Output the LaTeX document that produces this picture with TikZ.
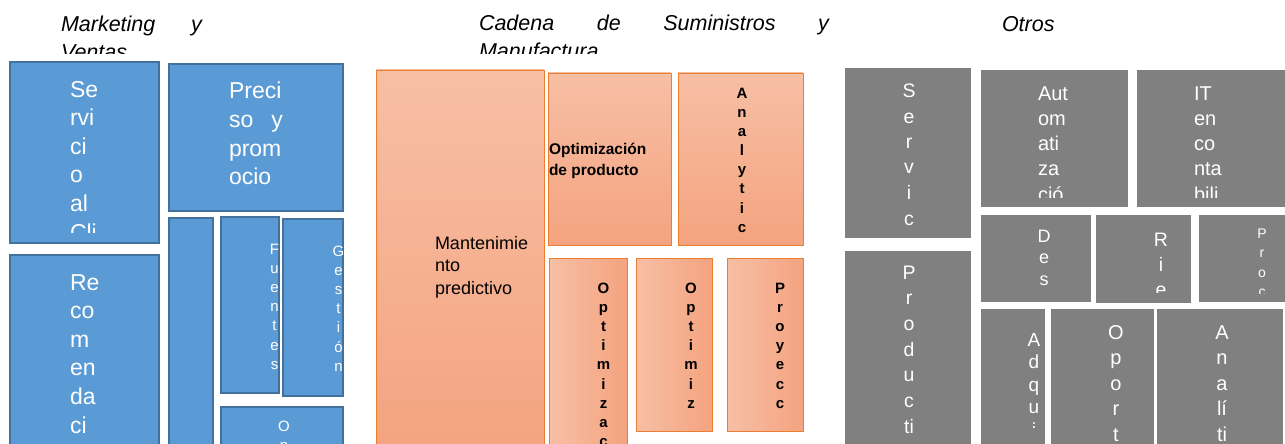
\documentclass[tikz,border=0pt]{standalone}
\usepackage{fontspec}
\setmainfont{Liberation Sans}
\definecolor{bfill}{RGB}{91,155,213}
\definecolor{bline}{RGB}{65,113,156}
\definecolor{gfill}{RGB}{128,128,128}
\definecolor{otop}{RGB}{247,191,165}
\definecolor{obot}{RGB}{244,163,127}
\definecolor{oline}{RGB}{237,125,49}
% vertical stack of centred single items
\def\vsend{\relax}
\def\vsaux#1{\def\vstmp{#1}\ifx\vstmp\vsend\else\hbox to0pt{\hss#1\hss}\expandafter\vsaux\fi}
\newcommand\vlet[1]{\vtop{\vsaux#1\relax}}
% vertical stack of left-aligned lines separated by commas
\def\vlend{QQEND}
\def\vlaux#1,{\def\vltmp{#1}\ifx\vltmp\vlend\else\hbox{#1}\expandafter\vlaux\fi}
\newcommand\vlin[1]{\vtop{\vlaux#1,QQEND,}}
% box: style, name, x1, y1, x2, y2
\newcommand\tbox[6]{\node[#1, anchor=north west, minimum width={#5-#3}, minimum height={#6-#4}] (#2) at (#3,#4) {};}
\tikzset{
  boxbase/.style={inner sep=0pt, outer sep=0pt, rectangle},
  bbox/.style={boxbase, fill=bfill, draw=bline, line width=1.6pt},
  obox/.style={boxbase, top color=otop, bottom color=obot, draw=oline, line width=0.9pt},
  oboxh/.style={boxbase, left color=otop, right color=obot, draw=oline, line width=0.9pt},
  gbox/.style={boxbase, fill=gfill},
  txt/.style={inner sep=0pt, outer sep=0pt},
  wtxt/.style={txt, text=white},
  ktxt/.style={txt, text=black},
  ttl/.style={txt, text=black, anchor=base west, font=\fontsize{21.5}{28}\selectfont\itshape},
}
\begin{document}
\begin{tikzpicture}[x=1pt,y=-1pt]
\useasboundingbox[fill=white] (0,0) rectangle (1285,444);

% ---------- titles ----------
\begin{scope}
\clip (0,0) rectangle (1285,54);
\node[ttl] (t1) at (61,32) {\vtop{\hbox to141pt{Marketing\hfill y}\hbox{Ventas}}};
\node[ttl] (t2) at (479,31) {\vtop{\hbox to350pt{Cadena\hfill de\hfill Suministros\hfill y}\hbox{Manufactura}}};
\node[ttl] (t3) at (1002,32) {Otros};
\end{scope}

% ---------- blue: Marketing y Ventas ----------
\tbox{bbox}{b1}{10}{62}{159}{243}
\tbox{bbox}{b2}{169}{64}{343}{211}
\tbox{bbox}{b3}{169}{218}{213}{452}
\tbox{bbox}{b4}{221}{217}{279}{393}
\tbox{bbox}{b5}{283}{219}{343}{396}
\tbox{bbox}{b6}{221}{407}{343}{452}
\tbox{bbox}{b7}{10}{255}{159}{452}

\begin{scope}\clip (10,62) rectangle (159,232);
\node[wtxt, anchor=base west, font=\fontsize{23}{28.6}\selectfont] (b1t) at (70,97) {\vlin{Se,rvi,ci,o,al,Cli}};
\end{scope}
\begin{scope}\clip (169,64) rectangle (343,202);
\node[wtxt, anchor=base west, font=\fontsize{23}{28.6}\selectfont] (b2t) at (229,99) {\vlin{Preci,\hbox to54pt{so\hfill y},prom,ocio}};
\end{scope}
\begin{scope}\clip (221,217) rectangle (278.5,386);
\node[wtxt, anchor=base, font=\fontsize{15}{19.2}\selectfont] (b4t) at (274.5,254) {\vlet{Fuentes}};
\end{scope}
\begin{scope}\clip (283,219) rectangle (342.5,388);
\node[wtxt, anchor=base, font=\fontsize{15}{19.2}\selectfont] (b5t) at (338.5,256) {\vlet{Gestión}};
\end{scope}
\begin{scope}\clip (221,407) rectangle (343,452);
\node[wtxt, anchor=base, font=\fontsize{15}{19.2}\selectfont] (b6t) at (284,431) {\vlet{Op}};
\end{scope}
\begin{scope}\clip (10,255) rectangle (159,452);
\node[wtxt, anchor=base west, font=\fontsize{23}{28.6}\selectfont] (b7t) at (70,290) {\vlin{Re,co,m,en,da,ci}};
\end{scope}

% ---------- orange: Cadena de Suministros y Manufactura ----------
\tbox{obox}{o1}{376}{70}{544}{452}
\tbox{obox}{o2}{548}{73}{671}{245}
\tbox{obox}{o3}{678}{73}{803}{245}
\tbox{oboxh}{o4}{549}{258}{627}{452}
\tbox{oboxh}{o5}{636}{258}{712}{431}
\tbox{oboxh}{o6}{727}{258}{803}{431}

\node[ktxt, anchor=base west, font=\fontsize{18}{22.5}\selectfont] (o1t) at (435,249) {\vlin{Mantenimie,nto,predictivo}};
\node[ktxt, anchor=base west, font=\fontsize{15.5}{21}\selectfont\bfseries] (o2t) at (549,154) {\vlin{Optimización,de producto}};
\node[ktxt, anchor=base, font=\fontsize{15}{19.2}\selectfont\bfseries] (o3t) at (742,98) {\vlet{Analytic}};
\begin{scope}\clip (549,258) rectangle (627,452);
\node[ktxt, anchor=base, font=\fontsize{15}{19.2}\selectfont\bfseries] (o4t) at (603.5,293) {\vlet{Optimizac}};
\end{scope}
\node[ktxt, anchor=base, font=\fontsize{15}{19.2}\selectfont\bfseries] (o5t) at (691,293) {\vlet{Optimiz}};
\node[ktxt, anchor=base, font=\fontsize{15}{19.2}\selectfont\bfseries] (o6t) at (780,293) {\vlet{Proyecc}};

% ---------- gray: Otros ----------
\tbox{gbox}{g1}{845}{68}{971}{238}
\tbox{gbox}{g2}{981}{70}{1128}{207}
\tbox{gbox}{g3}{1137}{70}{1290}{207}
\tbox{gbox}{g4}{981}{215}{1091}{302}
\tbox{gbox}{g5}{1096}{215}{1191}{303}
\tbox{gbox}{g6}{1199}{215}{1290}{302}
\tbox{gbox}{g7}{845}{251}{971}{452}
\tbox{gbox}{g8}{981}{309}{1045}{452}
\tbox{gbox}{g9}{1051}{309}{1154}{452}
\tbox{gbox}{g10}{1157}{309}{1283}{452}

\begin{scope}\clip (845,68) rectangle (971,231);
\node[wtxt, anchor=base, font=\fontsize{19.5}{25.5}\selectfont] (g1t) at (909,97.5) {\vlet{Servic}};
\end{scope}
\begin{scope}\clip (981,70) rectangle (1128,197);
\node[wtxt, anchor=base west, font=\fontsize{20}{25.3}\selectfont] (g2t) at (1038,100) {\vlin{Aut,om,ati,za,ció}};
\end{scope}
\begin{scope}\clip (1137,70) rectangle (1290,197);
\node[wtxt, anchor=base west, font=\fontsize{20}{25.3}\selectfont] (g3t) at (1194,100) {\vlin{IT,en,co,nta,bili}};
\end{scope}
\begin{scope}\clip (981,215) rectangle (1091,294);
\node[wtxt, anchor=base, font=\fontsize{18}{21.5}\selectfont] (g4t) at (1044,242) {\vlet{Des}};
\end{scope}
\begin{scope}\clip (1096,215) rectangle (1191,292);
\node[wtxt, anchor=base, font=\fontsize{19.5}{25}\selectfont] (g5t) at (1161,246) {\vlet{Rie}};
\end{scope}
\begin{scope}\clip (1199,215) rectangle (1290,293);
\node[wtxt, anchor=base, font=\fontsize{14}{19.5}\selectfont] (g6t) at (1262,238) {\vlet{Proc}};
\end{scope}
\begin{scope}\clip (845,251) rectangle (971,452);
\node[wtxt, anchor=base, font=\fontsize{19.5}{25.7}\selectfont] (g7t) at (909,279) {\vlet{Produc{ti}}};
\end{scope}
\begin{scope}\clip (981,309) rectangle (1045,427);
\node[wtxt, anchor=base, font=\fontsize{19}{22.5}\selectfont] (g8t) at (1034,346) {\vlet{Adqui}};
\end{scope}
\begin{scope}\clip (1051,309) rectangle (1154,452);
\node[wtxt, anchor=base, font=\fontsize{20}{25.5}\selectfont] (g9t) at (1116,339) {\vlet{Oport}};
\end{scope}
\begin{scope}\clip (1157,309) rectangle (1283,452);
\node[wtxt, anchor=base, font=\fontsize{20}{25.5}\selectfont] (g10t) at (1222,339) {\vlet{Ana{lí}{ti}}};
\end{scope}
\end{tikzpicture}
\end{document}
